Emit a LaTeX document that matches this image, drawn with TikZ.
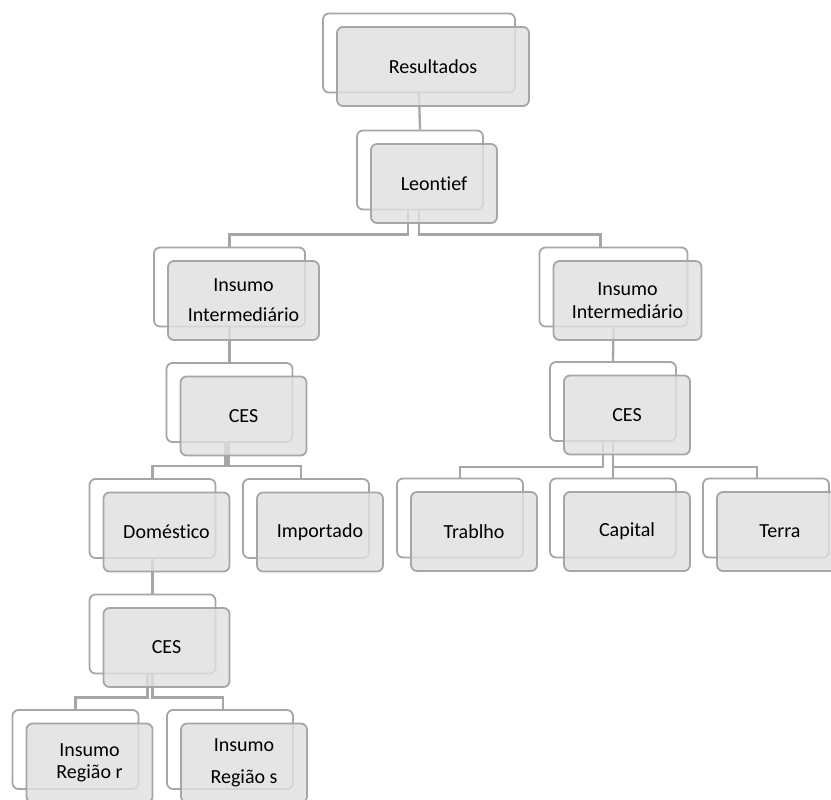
\documentclass[tikz,border=0pt]{standalone}
\usepackage{fontspec}
\setmainfont{Carlito}[Ligatures={NoCommon}]
\definecolor{boxgray}{RGB}{166,166,166}
\definecolor{boxfill}{RGB}{224,224,224}
\usepackage{tikz}
\usetikzlibrary{positioning}

\begin{document}
\begin{tikzpicture}[x=1pt,y=-1pt,
  bk/.style={draw=boxgray,line width=1.8pt,rounded corners=6pt,fill=white,
             minimum width=126pt,minimum height=79pt,inner sep=0pt},
  fr/.style={draw=boxgray,line width=1.8pt,rounded corners=6pt,fill=boxfill,
             fill opacity=0.82,text opacity=1,minimum width=126pt,minimum height=79pt,
             inner sep=0pt,align=center,font=\fontsize{20}{24}\selectfont},
  ln/.style={draw=boxgray,line width=2.3pt},
  off/.style={shift={(14,13.5)}}]
  \useasboundingbox (0,0) rectangle (831,800);
  \clip (0,0) rectangle (831,800);
  % back boxes
  \node[bk,minimum width=192pt] (resB) at (419,53) {};
  \node[bk] (leoB) at (420,170) {};
  \node[bk,minimum width=151pt] (insLB) at (229.5,287) {};
  \node[bk,minimum width=148pt] (insRB) at (613.5,287) {};
  \node[bk] (cesLB) at (229.5,402.5) {};
  \node[bk] (cesRB) at (613,401.5) {};
  \node[bk] (domB) at (152.5,518.5) {};
  \node[bk] (impB) at (306,518.5) {};
  \node[bk] (trabB) at (460,518) {};
  \node[bk] (capB) at (613,518) {};
  \node[bk] (terraB) at (766,518) {};
  \node[bk] (cesDB) at (152.5,634) {};
  \node[bk] (regRB) at (75.5,749.5) {};
  \node[bk] (regSB) at (230,749.5) {};
  % conectores
  \draw[ln] (resB.south) -- (leoB.north);
  \draw[ln] ([xshift=-12pt]leoB.south) -- ++(0,24) -| (insLB.north);
  \draw[ln] ([xshift=-1pt]leoB.south) -- ++(0,24) -| ([xshift=-13pt]insRB.north);
  \draw[ln] (insLB.south) -- (cesLB.north);
  \draw[ln] (insRB.south) -- (cesRB.north);
  \draw[ln] ([xshift=-4pt]cesLB.south) -- ++(0,23) -| (domB.north);
  \draw[ln] ([xshift=-1pt]cesLB.south) -- ++(0,23) -| ([xshift=-5pt]impB.north);
  \draw[ln] ([xshift=-10pt]cesRB.south) -- ++(0,25) -| (trabB.north);
  \draw[ln] (cesRB.south) -- (capB.north);
  \draw[ln] ([yshift=-25pt]cesRB.south) -| ([xshift=-9pt]terraB.north);
  \draw[ln] (domB.south) -- (cesDB.north);
  \draw[ln] ([xshift=-5pt]cesDB.south) -- ++(0,23) -| (regRB.north);
  \draw[ln] (cesDB.south) -- ++(0,23) -| ([xshift=-7pt]regSB.north);
  % front boxes
  \node[fr,minimum width=192pt] (res) at ([off]resB.center) {Resultados};
  \node[fr] (leo) at ([off]leoB.center) {Leontief};
  \node[fr,minimum width=151pt] (insL) at ([off]insLB.center) {Insumo\\[6pt]Intermediário};
  \node[fr,minimum width=148pt] (insR) at ([off]insRB.center) {Insumo\\[-1pt]Intermediário};
  \node[fr] (cesL) at ([off]cesLB.center) {CES};
  \node[fr] (cesR) at ([off]cesRB.center) {CES};
  \node[fr] (dom) at ([off]domB.center) {Doméstico};
  \node[fr] (imp) at ([off]impB.center) {Importado};
  \node[fr] (trab) at ([off]trabB.center) {Trablho};
  \node[fr] (cap) at ([off]capB.center) {Capital};
  \node[fr] (terra) at ([off]terraB.center) {Terra};
  \node[fr] (cesD) at ([off]cesDB.center) {CES};
  \node[fr] (regR) at ([off]regRB.center) {Insumo\\[-2pt]Região r};
  \node[fr] (regS) at ([off]regSB.center) {Insumo\\[8pt]Região s};
\end{tikzpicture}
\end{document}
